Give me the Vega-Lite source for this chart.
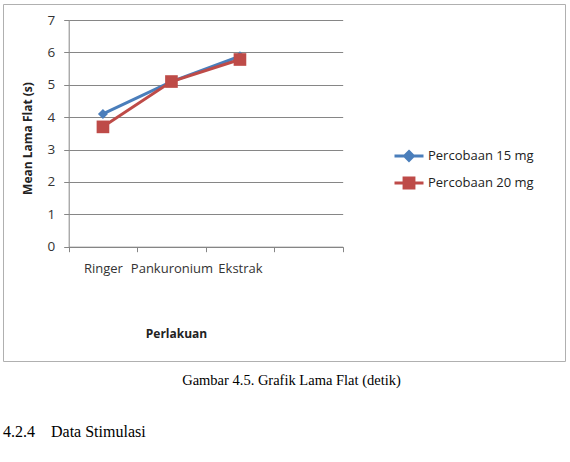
{
  "$schema": "https://vega.github.io/schema/vega-lite/v6.json",
  "padding": {"left": 2, "top": 3, "right": 0, "bottom": 0},
  "background": "white",
  "config": {
    "view": {"stroke": "#b0b0b0", "strokeWidth": 1},
    "font": "Open Sans"
  },
  "title": {
    "text": "4.2.4\u00a0\u00a0\u00a0\u00a0Data Stimulasi",
    "orient": "bottom",
    "anchor": "start",
    "frame": "group",
    "font": "Liberation Serif",
    "fontSize": 16,
    "fontWeight": "normal",
    "color": "black",
    "offset": 36,
    "dx": 0
  },
  "vconcat": [
    {
      "width": 562,
      "height": 357,
      "title": {
        "text": "Gambar 4.5. Grafik Lama Flat (detik)",
        "orient": "bottom",
        "anchor": "middle",
        "frame": "group",
        "font": "Liberation Serif",
        "fontSize": 14.5,
        "fontWeight": "normal",
        "color": "black",
        "offset": 13,
        "dx": 7.5
      },
      "data": {
        "values": [
          {"perlakuan": "Ringer", "seri": "Percobaan 15 mg", "mean": 4.1},
          {"perlakuan": "Pankuronium", "seri": "Percobaan 15 mg", "mean": 5.1},
          {"perlakuan": "Ekstrak", "seri": "Percobaan 15 mg", "mean": 5.88},
          {"perlakuan": "Ringer", "seri": "Percobaan 20 mg", "mean": 3.7},
          {"perlakuan": "Pankuronium", "seri": "Percobaan 20 mg", "mean": 5.1},
          {"perlakuan": "Ekstrak", "seri": "Percobaan 20 mg", "mean": 5.78}
        ]
      },
      "encoding": {
        "x": {
          "field": "perlakuan",
          "type": "nominal",
          "scale": {"domain": ["Ringer", "Pankuronium", "Ekstrak", " "], "range": [65.7, 339.7], "paddingInner": 0, "paddingOuter": 0},
          "axis": {
            "title": "Perlakuan",
            "offset": -114.3,
            "labelAngle": 0,
            "tickBand": "extent",
            "grid": false,
            "domainColor": "#868686",
            "tickColor": "#868686",
            "tickSize": 5,
            "labelPadding": 11,
            "labelFont": "Open Sans",
            "labelFontSize": 13,
            "labelColor": "#333333",
            "titleFont": "Open Sans",
            "titleFontSize": 12,
            "titleFontWeight": "bold",
            "titleColor": "#222222",
            "titleX": 173,
            "titleY": 87,
            "titleBaseline": "middle"
          }
        },
        "y": {
          "field": "mean",
          "type": "quantitative",
          "scale": {"domain": [0, 7], "range": [242.7, 16], "nice": false, "zero": true},
          "axis": {
            "title": "Mean Lama Flat (s)",
            "offset": -65.7,
            "values": [0, 1, 2, 3, 4, 5, 6, 7],
            "grid": true,
            "gridColor": "#868686",
            "gridWidth": 1,
            "domainColor": "#868686",
            "tickColor": "#868686",
            "tickSize": 5,
            "labelPadding": 9,
            "labelFont": "Open Sans",
            "labelFontSize": 13.5,
            "labelColor": "#333333",
            "titleFont": "Open Sans",
            "titleFontSize": 12,
            "titleFontWeight": "bold",
            "titleColor": "#222222",
            "titleX": -41,
            "titleY": 134,
            "titleBaseline": "middle",
            "titleAngle": 270
          }
        },
        "color": {
          "field": "seri",
          "type": "nominal",
          "scale": {"domain": ["Percobaan 15 mg", "Percobaan 20 mg"], "range": ["#4a7ebb", "#be4b48"]},
          "legend": {
            "title": null,
            "orient": "none",
            "legendX": 390,
            "legendY": 136,
            "padding": 0,
            "rowPadding": 0,
            "symbolSize": 841,
            "symbolStrokeWidth": 3,
            "labelOffset": 3,
            "labelFont": "Open Sans",
            "labelFontSize": 13,
            "labelColor": "#222222",
            "encode": {
              "symbols": {
                "update": {
                  "shape": {"signal": "datum.value === 'Percobaan 15 mg' ? 'M-1,0H1M0,-0.3L0.3,0L0,0.3L-0.3,0Z' : 'M-1,0H1M-0.34,-0.34H0.34V0.34H-0.34Z'"},
                  "size": {"value": 841},
                  "fill": {"scale": "color", "field": "value"},
                  "stroke": {"scale": "color", "field": "value"},
                  "strokeWidth": {"value": 3},
                  "opacity": {"value": 1},
                  "fillOpacity": {"value": 1}
                }
              }
            }
          }
        }
      },
      "layer": [
        {
          "mark": {"type": "line", "strokeWidth": 3}
        },
        {
          "mark": {"type": "point", "filled": true, "opacity": 1},
          "encoding": {
            "shape": {
              "condition": {"test": "datum.seri === 'Percobaan 15 mg'", "value": "diamond"},
              "value": "square"
            },
            "size": {
              "condition": {"test": "datum.seri === 'Percobaan 15 mg'", "value": 100},
              "value": 160
            }
          }
        }
      ]
    }
  ]
}
